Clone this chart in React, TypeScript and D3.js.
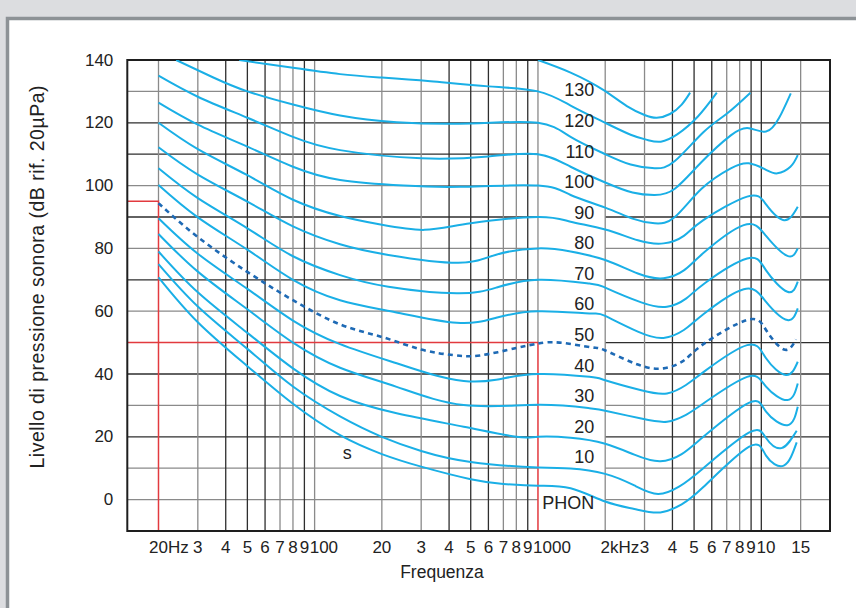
import React from "react";
import * as d3 from "d3";

// ---- data (frequency Hz, level dB) ----
const phon140: [number, number][] = [[1000,140],[1400,136],[1960,130.5],[2500,125.3],[3000,122.5],[3400,121.6],[3900,122.8],[4400,125.8],[4800,129.6]];
const phon130: [number, number][] = [[46,140],[80,137.5],[130,135.5],[200,134.4],[330,133.2],[600,131.6],[1000,130],[1400,125.5],[1960,120.3],[2600,116.2],[3100,114.5],[3550,114],[4200,116.3],[5200,122],[6320,129.6]];
const phon120: [number, number][] = [[24,140],[35,134.5],[50,130],[80,125.8],[130,122.3],[233,120.2],[500,119.8],[1000,120],[1400,115.5],[1960,110.3],[2600,106.7],[3330,105.5],[4100,107.8],[5500,117],[7000,122.9],[8940,129.6]];
const phon110: [number, number][] = [[20,135],[30,128.3],[50,121.6],[80,115.5],[130,111.3],[300,108.7],[600,109.3],[1000,110],[1400,106],[2000,101],[2650,97.8],[3330,97],[4100,99],[5400,107.5],[7300,116],[8790,118.3],[10500,117.2],[12000,121.5],[13550,129.4]];
const phon100: [number, number][] = [[20,126.4],[30,119.4],[50,112.4],[80,106],[130,101.8],[250,100],[450,99.6],[1000,100],[1400,97],[2000,93],[2650,89.5],[3330,88],[4100,90],[5400,99],[7300,105.5],[8790,107.1],[10500,105],[11800,103.9],[13500,106],[14560,109.7]];
const phon90: [number, number][] = [[20,120],[30,111.6],[50,103.3],[80,95.5],[130,90.3],[200,87.5],[310,85.9],[500,88],[1000,90],[1400,88.5],[2000,86],[2800,82.6],[3650,81.6],[4500,84],[5500,89],[8640,96.5],[10500,94],[12640,89],[14560,93.3]];
const phon80: [number, number][] = [[20,112.2],[30,103.5],[50,94.9],[80,87],[130,81.3],[214,77.9],[440,75.4],[650,78],[1000,80],[1400,79],[2000,76.3],[2800,72],[3650,70.5],[4500,73],[5500,78.5],[8340,87.4],[10500,84],[13090,77.6],[14560,80]];
const phon70: [number, number][] = [[20,105.5],[30,96],[50,86.4],[80,77.5],[130,71.5],[214,67.8],[433,65.7],[650,67.5],[1000,70],[1700,68.8],[2000,67.5],[2900,62.8],[3780,61.4],[4600,64],[5600,69],[8640,76.8],[10500,73],[13090,66.2],[14560,69.4]];
const phon60: [number, number][] = [[20,100.2],[30,89.9],[50,79.6],[80,70],[130,63.5],[225,59.8],[433,56.3],[650,57.9],[1000,60],[1700,59.3],[2000,58.5],[2800,53.5],[3650,51.5],[4500,54],[5500,59],[8340,67],[10500,63],[13090,57.2],[14560,60.9]];
const phon50: [number, number][] = [[20,94.4],[30,83.6],[50,72.5],[80,63.5],[130,55.8],[200,51.8],[300,47.8],[420,46],[550,45.9],[800,48.3],[1000,49.7],[1250,50],[1730,48.5],[2000,47.5],[2800,43],[3650,41.8],[4500,44.3],[5500,49.5],[8640,57.2],[10500,54],[12640,47.8],[14300,51]];
const phon40: [number, number][] = [[20,89.6],[30,78.3],[50,67.1],[80,57],[130,49.5],[233,43.4],[330,40],[465,37.8],[650,38.2],[1000,40],[1700,39.1],[2000,38],[2900,34.8],[3780,33.8],[4600,36.5],[5600,41],[8640,49.2],[10500,45],[12900,39.7],[14560,43.9]];
const phon30: [number, number][] = [[20,84.6],[30,72.6],[50,60.6],[80,50],[130,42],[233,35.9],[465,30.1],[1000,30.2],[1700,29.1],[2000,28.3],[2900,25.8],[3780,24.8],[4600,27],[5600,31],[8640,39.1],[10500,36],[13090,31.7],[14560,37]];
const phon20: [number, number][] = [[20,79],[30,66],[50,53.1],[80,41.8],[130,33],[233,27.5],[465,23.2],[800,20],[1000,20],[1400,19.7],[2000,17.8],[2700,14.3],[3530,12.2],[4400,14.5],[5500,20],[8790,30.8],[10500,28],[13090,23.7],[14560,29.6]];
const phon10: [number, number][] = [[20,75],[30,61.5],[50,48],[80,36],[130,26.5],[200,20],[300,15.5],[500,12],[1000,10.2],[1400,9.9],[2000,8.2],[2700,4.5],[3450,1.8],[4300,4.2],[5500,10],[8790,21.3],[10500,19.6],[12300,16.4],[14400,21.9]];
const phonThreshold: [number, number][] = [[20,70.8],[30,56.5],[50,42.5],[80,30.5],[130,20.5],[200,14.5],[300,10.5],[500,6.5],[700,5],[1000,4.4],[1400,3.6],[2000,-0.6],[2700,-3],[3530,-4.1],[4400,-1.5],[5500,4],[8790,16.8],[10500,14],[12600,10.8],[14400,18.2]];

const solidCurves = [phon140, phon130, phon120, phon110, phon100, phon90, phon80, phon70, phon60, phon40, phon30, phon20, phon10, phonThreshold];
const dashedCurve = phon50;

const curveLabels = [130, 120, 110, 100, 90, 80, 70, 60, 50, 40, 30, 20, 10];
const yTicks = [0, 20, 40, 60, 80, 100, 120, 140];
const hGrid = [0, 10, 20, 30, 40, 50, 60, 70, 80, 90, 100, 110, 120, 130];
const vGrid = [20, 30, 40, 50, 60, 70, 80, 90, 100, 200, 300, 400, 500, 600, 700, 800, 900, 1000, 2000, 3000, 4000, 5000, 6000, 7000, 8000, 9000, 10000, 15000];
const xTickLabels: [number, string][] = [
  [20, "20Hz"], [30, "3"], [40, "4"], [50, "5"], [60, "6"], [70, "7"], [80, "8"], [90, "9"], [100, "100"],
  [200, "20"], [300, "3"], [400, "4"], [500, "5"], [600, "6"], [700, "7"], [800, "8"], [900, "9"], [1000, "1000"],
  [2000, "2kHz"], [3000, "3"], [4000, "4"], [5000, "5"], [6000, "6"], [7000, "7"], [8000, "8"], [9000, "9"], [10000, "10"], [15000, "15"],
];
const refLevelLow = 50;   // red reference at 1 kHz
const refLevelHigh = 95;  // red reference at 20 Hz

const FONT = "'Liberation Sans', Arial, Helvetica, sans-serif";
const CYAN = "#1aafe6";
const DARKBLUE = "#1e6ab5";
const RED = "#e23a3f";

export default function App() {
  const W = 856, H = 608;
  const L = 127.3, R = 830, T = 60, B = 531;
  const x = d3.scaleLog().domain([14.5, 20300]).range([L, R]);
  const y = d3.scaleLinear().domain([-10, 140]).range([B, T]);
  const line = d3.line<[number, number]>()
    .x((d) => x(d[0]))
    .y((d) => y(d[1]))
    .curve(d3.curveNatural);

  const gray = "#8a8a8a", dark = "#2e2e2e";
  const hGray = new Set([130, 100, 80, 60, 30, 10, 0]);
  const vColor = (f: number) => {
    const m = Math.round(f / Math.pow(10, Math.floor(Math.log10(f))) * 10) / 10;
    if (f === 10000) return dark;
    return [4, 5, 6, 9].includes(m) ? dark : gray;
  };

  // x tick label layout: numeric part centered on its grid line, pushed right if overlapping
  const fs = 17;
  const cw = (c: string) => (/[0-9]/.test(c) ? 0.556 : c === "H" ? 0.722 : 0.5) * fs;
  let prevEnd = -Infinity;
  const placed = xTickLabels.map(([f, t]) => {
    const num = t.match(/^[0-9]+/)![0];
    const numW = num.split("").reduce((s, c) => s + cw(c), 0);
    const fullW = t.split("").reduce((s, c) => s + cw(c), 0);
    let start = x(f) - numW / 2;
    if (start < prevEnd + 0.6) start = prevEnd + 0.6;
    prevEnd = start + fullW;
    return { t, start };
  });

  const x1k = x(1000), x2k = x(2000);

  return (
    <div style={{ position: "fixed", left: 0, top: 0, width: W, height: H }}>
      <svg width={W} height={H} style={{ display: "block" }}>
        <defs>
          <clipPath id="plotclip">
            <rect x={L} y={T} width={R - L} height={B - T} />
          </clipPath>
        </defs>
        <rect x={0} y={0} width={W} height={H} fill="#dcdde0" />
        <rect x={7.5} y={18.5} width={W + 20} height={H + 20} fill="#ffffff" stroke="#8d9296" strokeWidth={3.5} />

        {/* horizontal grid (gap between 1 kHz and 2 kHz for the labels) */}
        {hGrid.map((v) => (
          <g key={"h" + v} stroke={hGray.has(v) ? gray : dark} strokeWidth={1.3}>
            {v !== refLevelLow && <line x1={L} x2={x1k} y1={y(v)} y2={y(v)} />}
            <line x1={x2k} x2={R} y1={y(v)} y2={y(v)} />
          </g>
        ))}
        {/* vertical grid */}
        {vGrid.map((f) => {
          let y2 = B;
          if (f === 20) y2 = y(refLevelHigh);
          if (f === 1000) y2 = y(refLevelLow);
          return <line key={"v" + f} x1={x(f)} x2={x(f)} y1={T} y2={y2} stroke={vColor(f)} strokeWidth={1.3} />;
        })}
        {/* red reference lines */}
        <g stroke={RED} strokeWidth={1.5} fill="none">
          <path d={`M${L},${y(refLevelHigh)}H${x(20)}V${B}`} />
          <path d={`M${L},${y(refLevelLow)}H${x1k}V${B}`} />
        </g>
        {/* frame */}
        <rect x={L} y={T} width={R - L} height={B - T} fill="none" stroke="#1e1e1e" strokeWidth={2} />

        {/* curves */}
        <g clipPath="url(#plotclip)" fill="none">
          {solidCurves.map((c, i) => (
            <path key={"c" + i} d={line(c) || ""} stroke={CYAN} strokeWidth={2} />
          ))}
          <path d={line(dashedCurve) || ""} stroke={DARKBLUE} strokeWidth={2.6} strokeDasharray="5,4.2" />
        </g>

        {/* phon labels */}
        <g fontFamily={FONT} fontSize={18} fill="#222" textAnchor="end">
          {curveLabels.map((p) => (
            <text key={"l" + p} x={x2k - 11} y={y(p) - (1 + (130 - p) * 0.0833)} dominantBaseline="central">{p}</text>
          ))}
          <text x={x2k - 11} y={y(0) + 3} dominantBaseline="central">PHON</text>
        </g>
        <text x={x(140)} y={y(15)} fontFamily={FONT} fontSize={18} fill="#222" textAnchor="middle" dominantBaseline="central">s</text>

        {/* y ticks */}
        <g fontFamily={FONT} fontSize={fs} fill="#222" textAnchor="end">
          {yTicks.map((v) => (
            <text key={"y" + v} x={L - 14} y={y(v)} dominantBaseline="central">{v}</text>
          ))}
        </g>
        {/* x ticks */}
        <g fontFamily={FONT} fontSize={fs} fill="#222">
          {placed.map((p, i) => (
            <text key={"x" + i} x={p.start} y={553}>{p.t}</text>
          ))}
        </g>
        <text x={442} y={578} fontFamily={FONT} fontSize={17.5} fill="#222" textAnchor="middle">Frequenza</text>
        <text transform={`translate(44,277) rotate(-90)`} fontFamily={FONT} fontSize={19.5} fill="#222" textAnchor="middle"
          textLength={383} lengthAdjust="spacing">
          Livello di pressione sonora (dB rif. 20µPa)
        </text>
      </svg>
    </div>
  );
}
